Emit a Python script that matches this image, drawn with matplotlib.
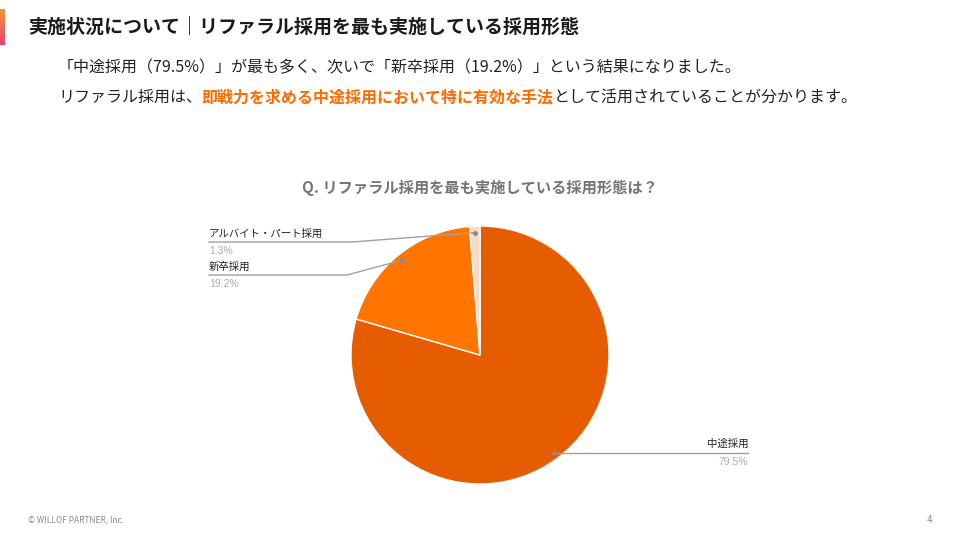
import numpy as np
import matplotlib
matplotlib.use("Agg")
import matplotlib.pyplot as plt
from matplotlib.colors import LinearSegmentedColormap

plt.rcParams['font.family'] = ['Noto Sans CJK JP', 'DejaVu Sans']

# data
labels = ["中途採用", "新卒採用", "アルバイト・パート採用"]
values = [79.5, 19.2, 1.3]
colors = ["#E65C00", "#FF7500", "#FDD8C6"]

header = "実施状況について｜リファラル採用を最も実施している採用形態"
line1 = "「中途採用（79.5%）」が最も多く、次いで「新卒採用（19.2%）」という結果になりました。"
line2_parts = ["リファラル採用は、", "即戦力を求める中途採用において特に有効な手法",
               "として活用されていることが分かります。"]
chart_title = "Q. リファラル採用を最も実施している採用形態は？"

W, H = 960, 540
fig = plt.figure(figsize=(9.6, 5.4), dpi=100)

# pie axes placed in pixel box
cx, cy, r = 480, 355, 129
pax = fig.add_axes([(cx - r) / W, (H - cy - r) / H, 2 * r / W, 2 * r / H])
wedges, _ = pax.pie(values, colors=colors, startangle=90, counterclock=False,
                    wedgeprops=dict(edgecolor="white", linewidth=1))
pax.set_xlim(-1, 1)
pax.set_ylim(-1, 1)
pax.set_aspect("equal")
pax.axis("off")

# overlay in pixel coordinates
ax = fig.add_axes([0, 0, 1, 1])
ax.set_xlim(0, W)
ax.set_ylim(H, 0)
ax.axis("off")
ax.patch.set_alpha(0)

# gradient bar
grad = np.linspace(0, 1, 50).reshape(-1, 1)
cmap = LinearSegmentedColormap.from_list("g", ["#F2922E", "#E8437A"])
ax.imshow(grad, cmap=cmap, extent=[0, 5, 45, 9], aspect="auto")
ax.set_xlim(0, W)
ax.set_ylim(H, 0)

ax.text(28, 27, header, fontsize=13.7, fontweight="bold", color="#1A1A1A",
        va="center", ha="left")

ax.text(58, 68, line1, fontsize=11.5, color="#222222", va="center", ha="left")

renderer = fig.canvas.get_renderer()
x = 58
part_styles = [("#222222", "normal"), ("#FF6A00", "bold"), ("#222222", "normal")]
for part, (c, w) in zip(line2_parts, part_styles):
    t = ax.text(x, 97, part, fontsize=11.5, color=c, fontweight=w, va="center", ha="left")
    x += t.get_window_extent(renderer).width

ax.text(480, 188, chart_title, fontsize=11, fontweight="bold", color="#757575",
        va="center", ha="center")

# leader lines
def anchor(wedge, frac=0.95):
    mid = np.deg2rad((wedge.theta1 + wedge.theta2) / 2)
    return cx + frac * r * np.cos(mid), cy - frac * r * np.sin(mid)

line_c = "#A0A0A0"
# 中途採用 (right)
px, py = anchor(wedges[0])
ax.plot([px, 748], [py, py], color=line_c, lw=1)
ax.plot(px, py, "o", color="#8A8A8A", ms=2.5)
ax.text(748, py - 9, labels[0], fontsize=7.5, color="#222222", ha="right", va="center")
ax.text(748, py + 9, f"{values[0]}%", fontsize=7.5, color="#AAAAAA", ha="right", va="center",
        family=["Liberation Sans", "DejaVu Sans"])

# 新卒採用 (left)
px, py = anchor(wedges[1])
ax.plot([209, 347, px], [275, 275, py], color=line_c, lw=1)
ax.plot(px, py, "o", color="#8A8A8A", ms=2.5)
ax.text(209, 267, labels[1], fontsize=7.5, color="#222222", ha="left", va="center")
ax.text(209, 284, f"{values[1]}%", fontsize=7.5, color="#AAAAAA", ha="left", va="center",
        family=["Liberation Sans", "DejaVu Sans"])

# アルバイト・パート採用 (left top)
px, py = anchor(wedges[2])
ax.plot([209, 352, px], [242, 242, py], color=line_c, lw=1)
ax.plot(px, py, "o", color="#8A8A8A", ms=2.5)
ax.text(209, 234, labels[2], fontsize=7.5, color="#222222", ha="left", va="center")
ax.text(209, 251, f"{values[2]}%", fontsize=7.5, color="#AAAAAA", ha="left", va="center",
        family=["Liberation Sans", "DejaVu Sans"])

# footer
ax.text(28, 520, "© WILLOF PARTNER, Inc.", fontsize=6, color="#8A8A8A", ha="left", va="center")
ax.text(932, 520, "4", fontsize=7, color="#8A8A8A", ha="right", va="center")

fig.savefig("out.png", dpi=100)
